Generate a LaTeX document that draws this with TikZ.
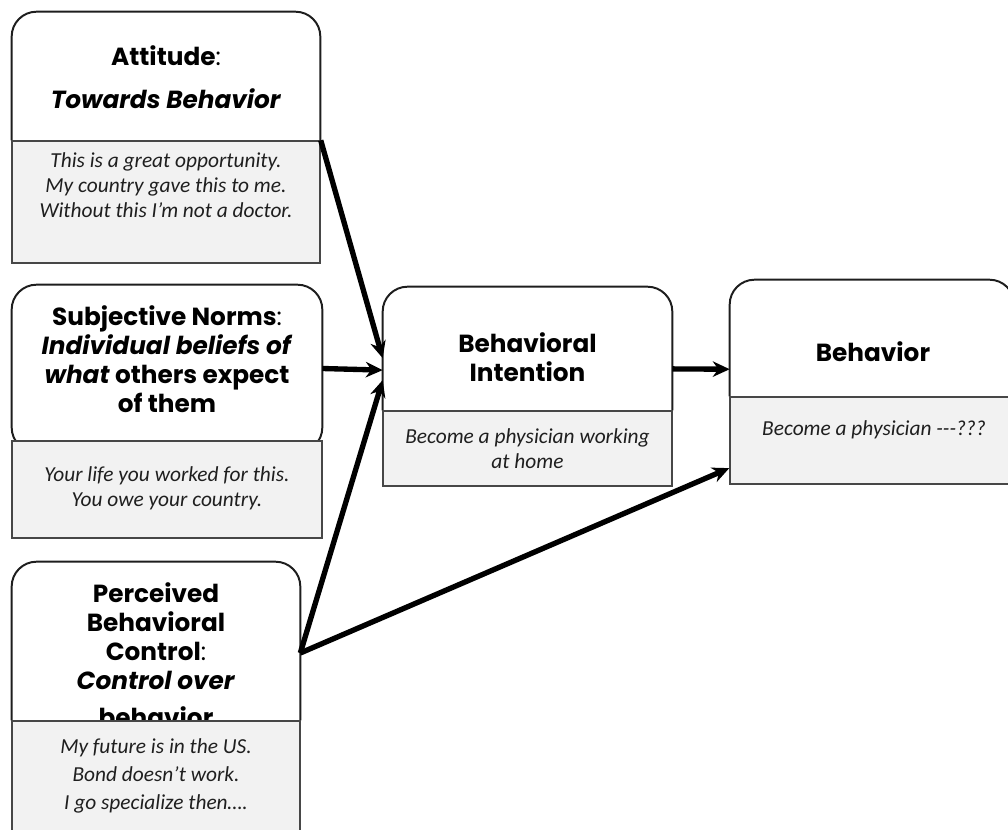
\documentclass[tikz,border=0pt]{standalone}
\usepackage{fontspec}
\setmainfont{Carlito}
\newfontfamily\tpbhead{Poppins}
\usetikzlibrary{positioning,arrows.meta}
\definecolor{tpbgrey}{HTML}{F2F2F2}
\definecolor{tpbedge}{HTML}{1E1E1E}
\definecolor{tpbline}{HTML}{474747}
\definecolor{tpbtext}{HTML}{1F1F1F}

\begin{document}
\begin{tikzpicture}[
      x=0.025cm, y=-0.025cm,
      box/.style={inner sep=0pt, fill=white},
      shell/.style={draw=tpbedge, line width=1.4pt, rounded corners=0.62cm},
      note/.style={draw=tpbline, fill=tpbgrey, line width=1pt, anchor=north, inner sep=0pt},
      head/.style={align=center, inner sep=0pt,
                   font=\tpbhead\fontsize{17.6}{20.5}\selectfont\bfseries},
      say/.style={align=center, inner sep=0pt, text=tpbtext,
                  font=\fontsize{15.2}{17.7}\selectfont\itshape},
      arr/.style={-{Stealth[length=12pt, width=11pt]}, line width=3.8pt, draw=black}
    ]
    \useasboundingbox (0,0) rectangle (1008,830);
    \clip (0,0) rectangle (1008,830);

    % attitude
    \node[box, minimum width=7.7cm, minimum height=3.2cm] (att) at (166,76) {};
    \draw[shell] (att.south west) -- (att.north west) -- (att.north east) -- (att.south east);
    \node[note, minimum width=7.7cm, minimum height=3.05cm] (attn) at (att.south) {};
    \node[head] (atth) at (166,77) {Attitude{\mdseries:}\\[10pt]\textit{Towards Behavior}};
    \node[say] (atts) at (166,185) {This is a great opportunity.\\My country gave this to me.\\Without this I’m not a doctor.};

    % subjective norms
    \node[box, minimum width=7.75cm, minimum height=4.175cm] (sn) at (167,368.5) {};
    \draw[shell] (sn.south west) rectangle (sn.north east);
    \node[note, minimum width=7.75cm, minimum height=2.425cm] (snn) at ([yshift=0.3cm]sn.south) {};
    \node[head] (snh) at (167,359) {Subjective Norms{\mdseries:}\\\textit{Individual beliefs of}\\\textit{what} others expect\\of them};
    \node[say] (sns) at (167,488.5) {Your life you worked for this.\\You owe your country.};

    % perceived behavioral control
    \node[box, minimum width=7.2cm, minimum height=3.95cm] (pbc) at (156,641) {};
    \draw[shell] (pbc.south west) -- (pbc.north west) -- (pbc.north east) -- (pbc.south east);
    \node[head] (pbch) at (156,655) {Perceived\\Behavioral\\Control{\mdseries:}\\\textit{Control over}\\[6pt]behavior};
    \node[note, minimum width=7.2cm, minimum height=3.25cm] (pbcn) at (pbc.south) {};
    \node[say] (pbcs) at (156,776) {My future is in the US.\\[2pt]Bond doesn’t work.\\[2pt]I go specialize then….};

    % behavioral intention
    \node[box, minimum width=7.225cm, minimum height=3.075cm] (bi) at (527.5,348.5) {};
    \draw[shell] (bi.south west) -- (bi.north west) -- (bi.north east) -- (bi.south east);
    \node[note, minimum width=7.225cm, minimum height=1.875cm] (bin) at (bi.south) {};
    \node[head] (bih) at (527.5,357.5) {Behavioral\\Intention};
    \node[say] (bis) at (527.5,448.5) {Become a physician working\\at home};

    % behavior
    \node[box, minimum width=7.1cm, minimum height=2.9cm] (beh) at (872,338) {};
    \draw[shell] (beh.south west) -- (beh.north west) -- (beh.north east) -- (beh.south east);
    \node[note, minimum width=7.1cm, minimum height=2.175cm] (behn) at (beh.south) {};
    \node[head] (behh) at (873,352) {Behavior};
    \node[say] (behs) at (874,430) {Become a physician -{}-{}-???};

    % arrows
    \draw[arr] (attn.north east) -- ([yshift=-0.24cm]bi.west);
    \draw[arr] (sn.east) -- ([yshift=-0.54cm]bi.west);
    \draw[arr] ([yshift=-0.3cm]pbc.east) -- ([yshift=-0.79cm]bi.west);
    \draw[arr] ([yshift=-0.51cm]bi.east) -- ([yshift=-0.78cm]beh.west);
    \draw[arr] ([yshift=-0.3cm]pbc.east) -- ([yshift=-0.69cm]behn.west);
  \end{tikzpicture}
\end{document}
